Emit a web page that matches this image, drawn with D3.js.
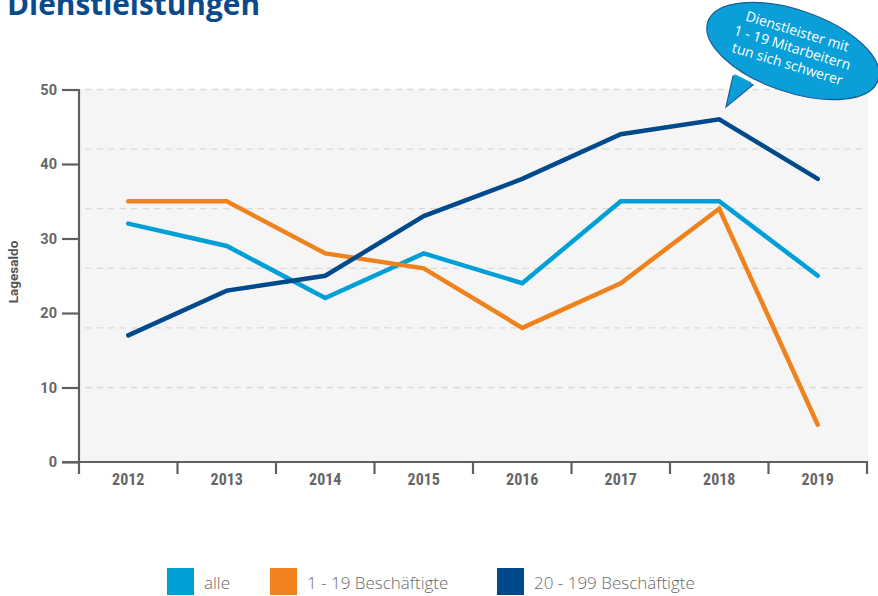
<!DOCTYPE html>
<html><head><meta charset="utf-8">
<script src="https://cdn.jsdelivr.net/npm/d3@7"></script>
<style>body{margin:0;background:#fff;} svg{display:block;}</style>
</head><body>
<svg id="c" width="878" height="596"></svg>
<script>
const years = ["2012","2013","2014","2015","2016","2017","2018","2019"];
const alle = [32,29,22,28,24,35,35,25];
const klein = [35,35,28,26,18,24,34,5];
const mittel = [17,23,25,33,38,44,46,38];
const yTicks = [0,10,20,30,40,50];
const gridValues = [10,18,26,34,42,50];
const seriesNames = ["alle","1 - 19 Beschäftigte","20 - 199 Beschäftigte"];
const colors = ["#009fd8","#f0821e","#004a8c"];
const titleText = "Dienstleistungen";
const yTitle = "Lagesaldo";
const bubbleLines = ["Dienstleister mit","1 - 19 Mitarbeitern","tun sich schwerer"];

const svg = d3.select("#c");
const L = 79, R = 867, T = 89.5, B = 462;
const x = d3.scaleBand().domain(years).range([L, R]);
const y = d3.scaleLinear().domain([0,50]).range([B, T]);

// title (clipped at top, as in the reference)
svg.append("text").attr("x",7).attr("y",15).attr("font-family","'Open Sans',sans-serif")
  .attr("font-weight",700).attr("font-size",30).attr("fill","#0a4a8c")
  .attr("textLength",253).attr("lengthAdjust","spacingAndGlyphs").text(titleText);

// plot background
svg.append("rect").attr("x",L).attr("y",T).attr("width",R+1-L).attr("height",B-T).attr("fill","#f5f5f5");

// gridlines
svg.append("g").selectAll("line").data(gridValues).join("line")
  .attr("x1",L+6).attr("x2",R).attr("y1",d=>y(d)).attr("y2",d=>y(d))
  .attr("stroke","#dadada").attr("stroke-width",1.3).attr("stroke-dasharray","6.5,5");

// y axis
const yAxis = svg.append("g").attr("transform",`translate(${L},0)`)
  .call(d3.axisLeft(y).tickValues(yTicks).tickSize(17).tickSizeOuter(0).tickPadding(5));
yAxis.select(".domain").remove();
yAxis.selectAll(".tick line").attr("stroke","#5f5f5f").attr("stroke-width",2.2);
yAxis.selectAll(".tick text").attr("font-family","Roboto,sans-serif").attr("font-weight",700)
  .attr("font-size",14.5).attr("fill","#666");
svg.append("line").attr("x1",L).attr("x2",L).attr("y1",T-0.5).attr("y2",B+12)
  .attr("stroke","#5f5f5f").attr("stroke-width",2.2);

// x axis
const xAxis = svg.append("g").attr("transform",`translate(0,${B})`)
  .call(d3.axisBottom(x).tickSize(0).tickPadding(12).tickSizeOuter(0));
xAxis.select(".domain").remove();
xAxis.selectAll(".tick text").attr("font-family","'Liberation Sans Narrow','Roboto Condensed',Roboto,sans-serif")
  .attr("font-weight",700).attr("font-size",16).attr("fill","#666");
svg.append("line").attr("x1",62).attr("x2",R+1).attr("y1",B).attr("y2",B)
  .attr("stroke","#5f5f5f").attr("stroke-width",2.2);
const bounds = years.slice(1).map(d=>x(d)).concat([R]);
svg.append("g").selectAll("line").data(bounds).join("line")
  .attr("x1",d=>d).attr("x2",d=>d).attr("y1",B).attr("y2",B+12)
  .attr("stroke","#5f5f5f").attr("stroke-width",2.2);

// y title
svg.append("text").attr("transform","translate(18,272) rotate(-90)").attr("text-anchor","middle")
  .attr("font-family","Roboto,sans-serif").attr("font-weight",700).attr("font-size",13.5)
  .attr("fill","#555").text(yTitle);

// lines
const line = d3.line().x((d,i)=>x(years[i])+x.bandwidth()/2).y(d=>y(d));
[alle, klein, mittel].forEach((s,k)=>{
  svg.append("path").datum(s).attr("d",line).attr("fill","none").attr("stroke",colors[k])
    .attr("stroke-width",4.5).attr("stroke-linecap","round").attr("stroke-linejoin","miter");
});

// speech bubble
const bx = 793, by = 51, ang = 19;
const bub = svg.append("g");
bub.append("path").attr("d","M733,76 L726,107 L753,85 Z").attr("fill","#0a9fd8")
  .attr("stroke","#1b5c96").attr("stroke-width",1.2).attr("stroke-linejoin","miter");
bub.append("ellipse").attr("cx",bx).attr("cy",by).attr("rx",90).attr("ry",41)
  .attr("transform",`rotate(${ang},${bx},${by})`).attr("fill","#0a9fd8")
  .attr("stroke","#1b5c96").attr("stroke-width",1.2);
bub.append("path").attr("d","M734.5,74 L727.5,104 L751.5,82.5 Z").attr("fill","#0a9fd8");
const bt = bub.append("text").attr("transform",`translate(${bx+3},${by-15}) rotate(17)`)
  .attr("text-anchor","middle").attr("font-family","'Open Sans',sans-serif")
  .attr("font-size",14).attr("fill","#fff");
bubbleLines.forEach((t,i)=>bt.append("tspan").attr("x",0).attr("dy",i===0?0:17).text(t));

// legend
const legX = [167,270,497];
const lg = svg.append("g");
seriesNames.forEach((n,i)=>{
  lg.append("rect").attr("x",legX[i]).attr("y",568).attr("width",27).attr("height",27).attr("fill",colors[i]);
  lg.append("text").attr("x",legX[i]+37).attr("y",589).attr("font-family","'Open Sans',sans-serif")
    .attr("font-weight",300).attr("font-size",17).attr("fill","#6a6a6a").text(n);
});
</script>
</body></html>
